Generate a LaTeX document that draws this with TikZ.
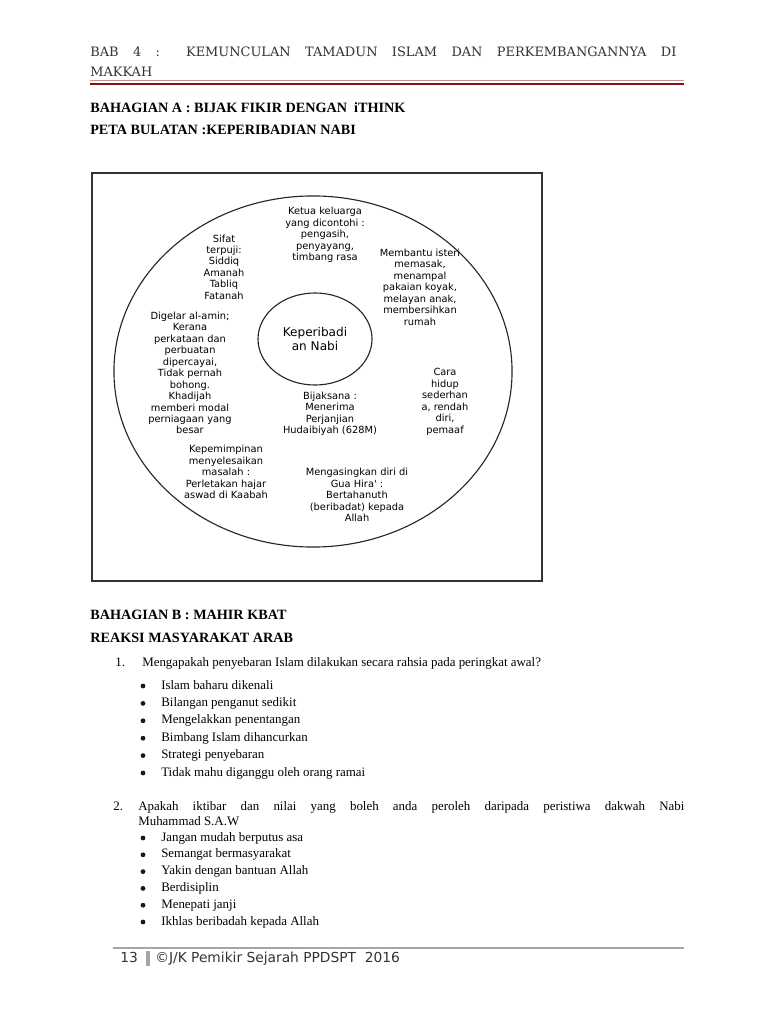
\documentclass[tikz,border=0pt]{standalone}
\usepackage{fontspec}
\setmainfont{Liberation Serif}
\newfontfamily\diagfont{DejaVu Sans}
\newfontfamily\headfont{DejaVu Serif}
\usepackage{xcolor}
\usetikzlibrary{shapes.geometric, positioning}
\definecolor{rulered}{HTML}{7E1416}
\definecolor{rulepink}{HTML}{C99292}

\begin{document}
\begin{tikzpicture}[
  x=0.025cm, y=-0.025cm,
  bubble/.style={align=center, inner sep=0pt, font=\diagfont\fontsize{7}{8.15}\selectfont},
  heading/.style={anchor=base west, inner sep=0pt, font=\bfseries\fontsize{10.1}{12}\selectfont},
  item/.style={anchor=base west, inner sep=0pt, font=\fontsize{9.2}{11}\selectfont},
  dot/.style={circle, fill=black!90, inner sep=0pt, minimum size=0.12cm},
  header/.style={anchor=base west, inner sep=0pt, text=black!80, font=\headfont\fontsize{9.2}{11}\selectfont},
  footer/.style={anchor=base west, inner sep=0pt, text=black!80, font=\diagfont\fontsize{9.8}{11}\selectfont},
]
\fill[white] (0,0) rectangle (768,1024);
\useasboundingbox (0,0) rectangle (768,1024);

% Page header
\node[header] (bab) at (90,57) {\makebox[14.65cm][s]{BAB 4 : KEMUNCULAN TAMADUN ISLAM DAN PERKEMBANGANNYA DI}};
\node[header] (makkah) at (90,77) {MAKKAH};
\coordinate (ruleA) at (90,80.5);
\coordinate (ruleB) at (684,80.5);
\coordinate (ruleC) at (90,84);
\coordinate (ruleD) at (684,84);
\draw[rulepink, line width=0.7pt] (ruleA) -- (ruleB);
\draw[rulered, line width=2pt] (ruleC) -- (ruleD);

% Bahagian A
\node[heading] (secA) at (90,113) {BAHAGIAN A : BIJAK FIKIR DENGAN \ iTHINK};
\node[heading] (peta) at (90,135) {PETA BULATAN :KEPERIBADIAN NABI};

% Circle map
\node[draw=black!80, line width=1pt, minimum width=11.25cm, minimum height=10.2cm] (frame) at (317,377) {};
\node[draw=black!85, line width=0.8pt, ellipse, minimum width=9.95cm, minimum height=8.775cm] (ring) at (313,371.5) {};
\node[draw=black!85, line width=0.8pt, ellipse, inner sep=0pt, minimum width=2.85cm, minimum height=2.3cm, align=center,
  font=\diagfont\fontsize{8.6}{10.2}\selectfont] (core) at (315,339) {Keperibadi\\an Nabi};

\node[bubble] (sifat) at (224,267) {Sifat\\terpuji:\\Siddiq\\Amanah\\Tabliq\\Fatanah};
\node[bubble] (ketua) at (325,235) {Ketua keluarga\\yang dicontohi :\\pengasih,\\penyayang,\\timbang rasa};
\node[bubble] (bantu) at (420,287) {Membantu isteri\\memasak,\\menampal\\pakaian koyak,\\melayan anak,\\membersihkan\\rumah};
\node[bubble] (gelar) at (190,373) {Digelar al-amin;\\Kerana\\perkataan dan\\perbuatan\\dipercayai,\\Tidak pernah\\bohong.\\Khadijah\\memberi modal\\perniagaan yang\\besar};
\node[bubble] (bijak) at (330,414) {Bijaksana :\\Menerima\\Perjanjian\\Hudaibiyah (628M)};
\node[bubble] (cara) at (445,402) {Cara\\hidup\\sederhan\\a, rendah\\diri,\\pemaaf};
\node[bubble] (pimpin) at (226,472) {Kepemimpinan\\menyelesaikan\\masalah :\\Perletakan hajar\\aswad di Kaabah};
\node[bubble] (asing) at (357,495) {Mengasingkan diri di\\Gua Hira' :\\Bertahanuth\\(beribadat) kepada\\Allah};

% Bahagian B
\node[heading] (secB) at (90,619) {BAHAGIAN B : MAHIR KBAT};
\node[heading] (reaksi) at (90,642) {REAKSI MASYARAKAT ARAB};

% Question 1
\node[item] (q1num) at (115,666) {1.};
\node[item] (q1) at (142,666) {Mengapakah penyebaran Islam dilakukan secara rahsia pada peringkat awal?};
\foreach \txt [count=\i from 0] in {Islam baharu dikenali, Bilangan penganut sedikit, Mengelakkan penentangan,
    Bimbang Islam dihancurkan, Strategi penyebaran, Tidak mahu diganggu oleh orang ramai}{
  \node[dot] (qa\i) at (143,686+17.4*\i) {};
  \node[item] (qb\i) at (161,689+17.4*\i) {\txt};
}

% Question 2
\node[item] (q2num) at (113,810) {2.};
\node[item] (q2) at (138,810) {\makebox[13.65cm][s]{Apakah iktibar dan nilai yang boleh anda peroleh daripada peristiwa dakwah Nabi}};
\node[item] (q2b) at (138,825) {Muhammad S.A.W};
\foreach \txt [count=\i from 0] in {Jangan mudah berputus asa, Semangat bermasyarakat, Yakin dengan bantuan Allah,
    Berdisiplin, Menepati janji, Ikhlas beribadah kepada Allah}{
  \node[dot] (ra\i) at (143,838+16.8*\i) {};
  \node[item] (rb\i) at (161,841+16.8*\i) {\txt};
}

% Footer
\coordinate (footA) at (113,948);
\coordinate (footB) at (684,948);
\draw[gray!70, line width=2.1pt] (footA) -- (footB);
\node[footer] (pgno) at (120,962) {13};
\coordinate (barA) at (148,951);
\coordinate (barB) at (148,966);
\draw[gray!70, line width=2.2pt] (barA) -- (barB);
\node[footer] (credit) at (155,962) {©J/K Pemikir Sejarah PPDSPT \ 2016};
\end{tikzpicture}
\end{document}
